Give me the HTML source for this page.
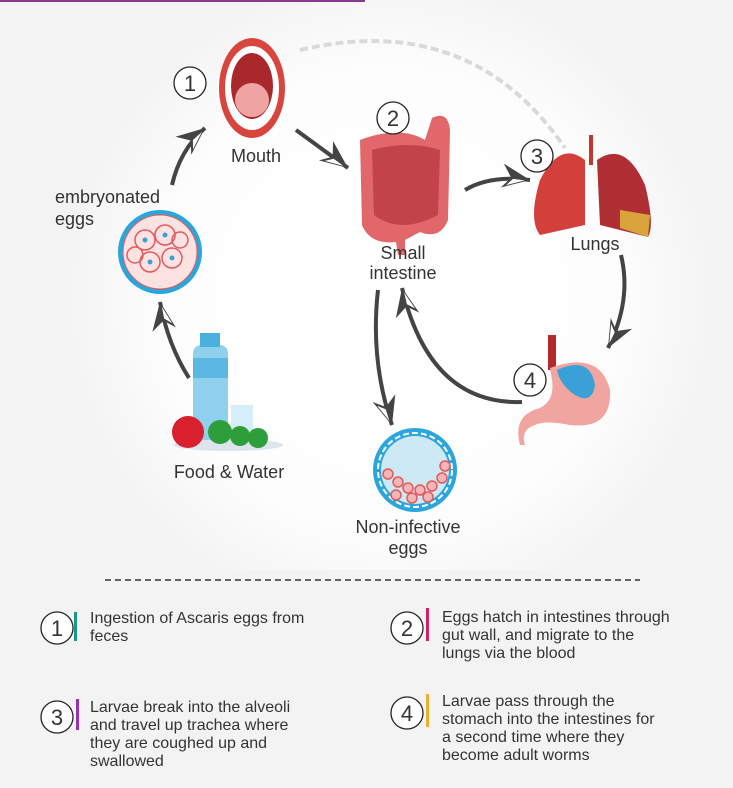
<!DOCTYPE html>
<html><head><meta charset="utf-8"><style>
html,body{margin:0;padding:0}
body{width:733px;height:788px;overflow:hidden;background:#f3f3f3;font-family:"Liberation Sans Narrow","Liberation Sans",sans-serif;color:#333}
svg{position:absolute;left:0;top:0}
text{font-family:"Liberation Sans Narrow","Liberation Sans",sans-serif;fill:#333}
</style></head><body>
<svg width="733" height="788" viewBox="0 0 733 788">
<defs>
<radialGradient id="glow" cx="390" cy="300" r="330" gradientUnits="userSpaceOnUse">
<stop offset="0" stop-color="#fff"/><stop offset="0.7" stop-color="#fdfdfd"/><stop offset="1" stop-color="#f3f3f3"/></radialGradient>
<marker id="ah" markerWidth="40" markerHeight="40" refX="0" refY="0" orient="auto" markerUnits="userSpaceOnUse" viewBox="-30 -20 40 40">
<path d="M0,0 L-28,-13 L-19,0 L-28,11 Z" fill="#444"/>
<path d="M-5,1 L-23,8 L-17,1 Z" fill="#fff"/>
</marker>
</defs>
<rect width="733" height="788" fill="#f3f3f3"/>
<rect width="733" height="570" fill="url(#glow)"/>
<rect x="0" y="0" width="365" height="2" fill="#8a3a8e"/>
<!-- dashed arc -->
<path d="M300,50 Q470,10 565,148" fill="none" stroke="#d9d9d9" stroke-width="4" stroke-dasharray="8,4"/>
<!-- arrows -->
<g fill="none" stroke="#444" stroke-width="4" marker-end="url(#ah)">
<path d="M172,185 Q180,150 205,128"/>
<path d="M296,130 L348,168"/>
<path d="M465,190 Q490,175 530,180"/>
<path d="M621,255 Q632,300 608,348"/>
<path d="M522,402 Q430,405 402,288"/>
<path d="M378,290 Q370,360 392,425"/>
<path d="M189,378 Q168,345 160,302"/>
</g>
<!-- mouth -->
<ellipse cx="252" cy="88" rx="33" ry="50" fill="#d8453f"/>
<ellipse cx="252" cy="88" rx="27" ry="42" fill="#fff"/>
<ellipse cx="252" cy="86" rx="21" ry="33" fill="#a8282c"/>
<ellipse cx="252" cy="100" rx="17" ry="17" fill="#efa3a3"/>
<!-- intestine -->
<path d="M360,140 Q400,125 425,140 L432,118 Q448,110 450,130 L448,220 Q440,240 420,232 L405,240 L405,255 L398,255 L396,242 Q370,245 362,225 Z" fill="#e2676a"/>
<path d="M372,150 Q410,140 440,150 L438,215 Q400,235 374,215 Z" fill="#c2434a"/>
<!-- lungs -->
<rect x="589" y="135" width="4" height="30" fill="#c0392b"/>
<path d="M585,160 Q560,140 540,180 Q528,220 540,235 L585,225 Z" fill="#d33f3a"/>
<path d="M597,160 Q625,140 645,185 Q655,225 648,237 L600,225 Z" fill="#b02f34"/>
<path d="M620,210 L650,215 L648,237 L620,228 Z" fill="#d9a43a"/>
<!-- stomach -->
<rect x="548" y="335" width="8" height="35" fill="#b5292d"/>
<path d="M550,368 Q600,350 610,390 Q612,430 570,425 Q545,420 535,425 Q520,430 525,445 L520,445 Q512,415 540,408 Q555,400 552,380 Z" fill="#f0a5a0"/>
<path d="M557,370 Q590,355 595,385 Q592,405 575,395 Q560,385 557,370Z" fill="#3aa0d8"/>
<!-- embryonated egg -->
<circle cx="160" cy="252" r="42" fill="#2aa6dd"/>
<circle cx="160" cy="252" r="37" fill="#fde2e2" stroke="#e55" stroke-width="1"/>
<g fill="none" stroke="#e2595e" stroke-width="1.5"><circle cx="145" cy="240" r="10"/><circle cx="165" cy="235" r="10"/><circle cx="150" cy="262" r="10"/><circle cx="172" cy="258" r="10"/><circle cx="180" cy="240" r="8"/><circle cx="135" cy="255" r="8"/></g>
<g fill="#3aa0d8"><circle cx="145" cy="240" r="2.5"/><circle cx="165" cy="235" r="2.5"/><circle cx="150" cy="262" r="2.5"/><circle cx="172" cy="258" r="2.5"/></g>
<!-- non infective egg -->
<circle cx="415" cy="470" r="42" fill="#2aa6dd"/>
<circle cx="415" cy="470" r="37" fill="none" stroke="#fff" stroke-width="2" stroke-dasharray="6,3"/>
<circle cx="415" cy="470" r="34" fill="#cde9f4"/>
<g fill="#f3b5b5" stroke="#e2595e" stroke-width="1.5">
<circle cx="388" cy="474" r="5"/><circle cx="398" cy="482" r="5"/><circle cx="408" cy="488" r="5"/><circle cx="420" cy="490" r="5"/><circle cx="432" cy="486" r="5"/><circle cx="442" cy="478" r="5"/><circle cx="445" cy="466" r="5"/><circle cx="396" cy="495" r="5"/><circle cx="412" cy="498" r="5"/><circle cx="428" cy="497" r="5"/></g>
<!-- food & water -->
<ellipse cx="228" cy="445" rx="55" ry="6" fill="#dde4ee"/>
<rect x="193" y="345" width="35" height="95" rx="8" fill="#8fd0ec"/>
<rect x="200" y="333" width="20" height="14" fill="#4ab0e0"/>
<rect x="193" y="358" width="35" height="20" fill="#5bb8e2"/>
<rect x="231" y="405" width="22" height="35" fill="#d6eef9"/>
<circle cx="188" cy="432" r="16" fill="#d9202f"/>
<g fill="#2e9e3a"><circle cx="220" cy="432" r="12"/><circle cx="240" cy="436" r="10"/><circle cx="258" cy="438" r="10"/></g>
<!-- numbered circles -->
<g fill="#fff" stroke="#222" stroke-width="1.3">
<circle cx="190" cy="83" r="16"/><circle cx="393" cy="118" r="16"/><circle cx="537" cy="156" r="16"/><circle cx="530" cy="380" r="16"/>
<circle cx="57" cy="628" r="16"/><circle cx="407" cy="628" r="16"/><circle cx="57" cy="717" r="16"/><circle cx="407" cy="713" r="16"/>
</g>
<g font-size="22" text-anchor="middle">
<text x="190" y="91">1</text><text x="393" y="126">2</text><text x="537" y="164">3</text><text x="530" y="388">4</text>
<text x="57" y="636">1</text><text x="407" y="636">2</text><text x="57" y="725">3</text><text x="407" y="721">4</text>
</g>
<!-- labels -->
<g font-size="18" text-anchor="middle">
<text x="256" y="162">Mouth</text>
<text x="403" y="259">Small</text><text x="403" y="279">intestine</text>
<text x="595" y="250">Lungs</text>
<text x="229" y="478">Food &amp; Water</text>
<text x="408" y="533">Non-infective</text><text x="408" y="554">eggs</text>
</g>
<g font-size="18"><text x="55" y="203">embryonated</text><text x="55" y="225">eggs</text></g>
<line x1="105" y1="580" x2="640" y2="580" stroke="#333" stroke-width="1.5" stroke-dasharray="6,4"/>
<!-- legend -->
<rect x="74" y="612" width="3" height="29" fill="#169a86"/>
<rect x="426" y="608" width="3" height="33" fill="#d4216e"/>
<rect x="76" y="699" width="3" height="31" fill="#9c2fb4"/>
<rect x="426" y="694" width="3" height="33" fill="#eab22b"/>
<g font-size="16" fill="#444">
<text x="90" y="623">Ingestion of Ascaris eggs from</text><text x="90" y="641">feces</text>
<text x="442" y="622">Eggs hatch in intestines through</text><text x="442" y="640">gut wall, and migrate to the</text><text x="442" y="658">lungs via the blood</text>
<text x="90" y="712">Larvae break into the alveoli</text><text x="90" y="730">and travel up trachea where</text><text x="90" y="748">they are coughed up and</text><text x="90" y="766">swallowed</text>
<text x="442" y="706">Larvae pass through the</text><text x="442" y="724">stomach into the intestines for</text><text x="442" y="742">a second time where they</text><text x="442" y="760">become adult worms</text>
</g>
</svg>
</body></html>
